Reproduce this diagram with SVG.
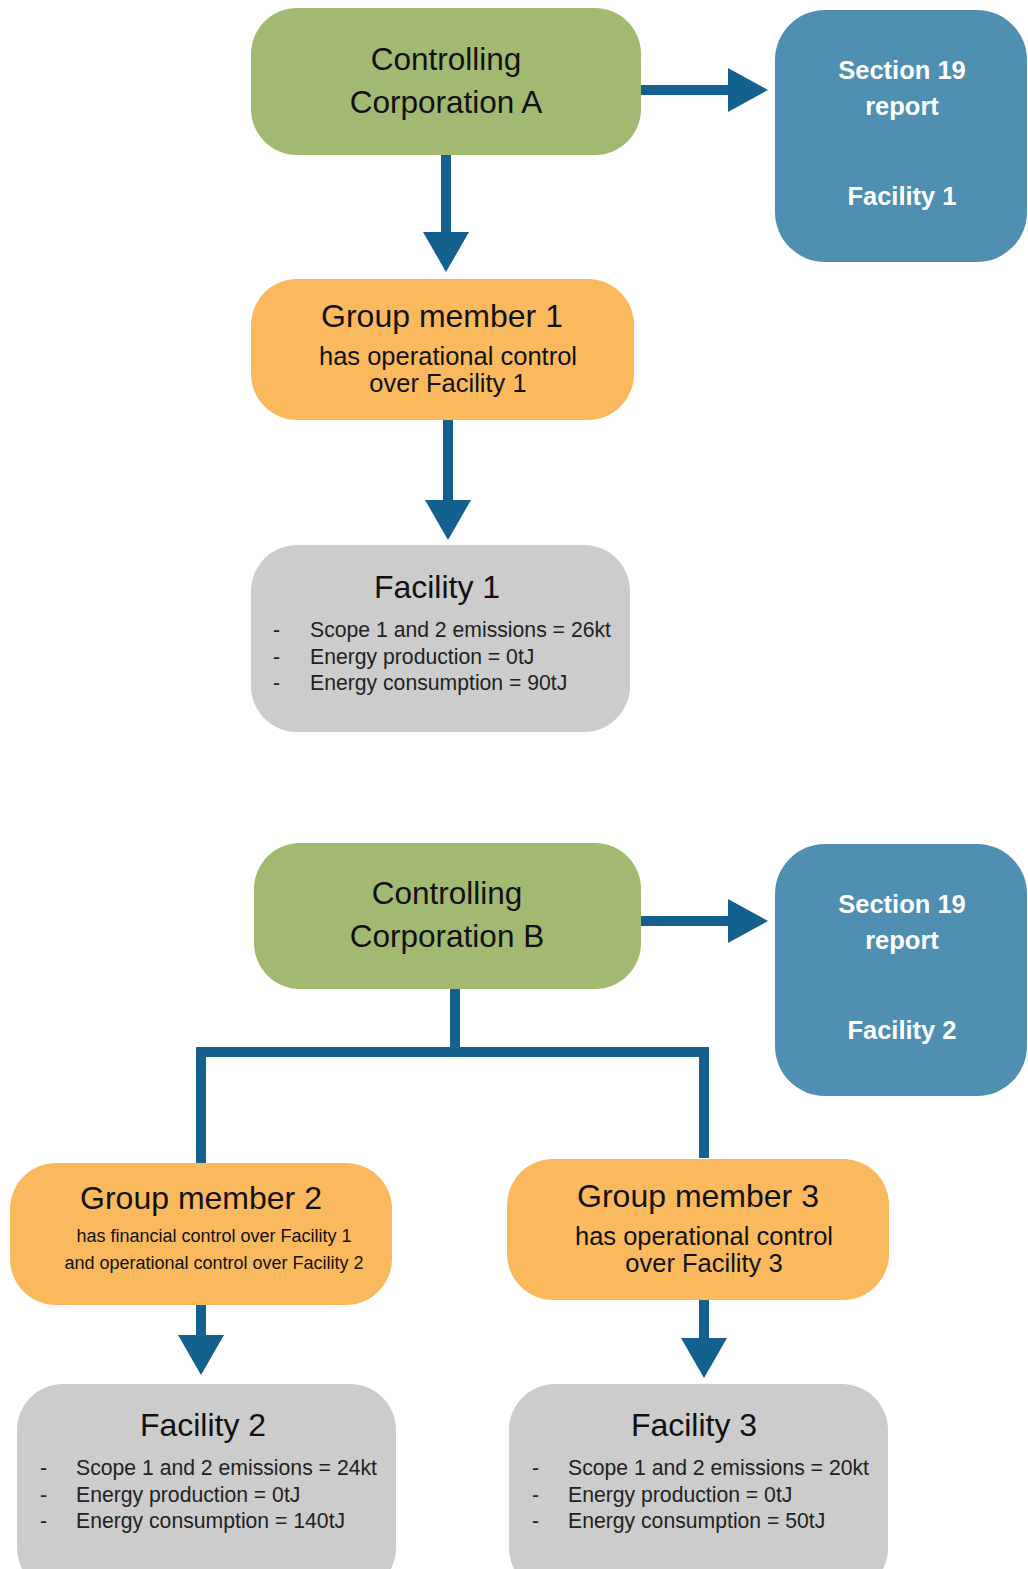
<svg xmlns="http://www.w3.org/2000/svg" width="1028" height="1569" viewBox="0 0 1028 1569">
<defs>
<style>
.green{fill:#a2b971}
.blue{fill:#4f8fb1}
.orange{fill:#fbb95e}
.gray{fill:#cccccc}
text{font-family:"Liberation Sans",Arial,sans-serif;fill:#111}
.t30{font-size:31.5px;text-anchor:middle}
.t32{font-size:32px;text-anchor:middle}
.t25{font-size:25.5px;text-anchor:middle}
.t18{font-size:18px;text-anchor:middle}
.b{font-size:21.2px;fill:#222}
.w{font-size:25.5px;font-weight:bold;fill:#fff;text-anchor:middle}
.con{stroke:#14608f;stroke-width:10;fill:none}
.head{fill:#14608f}
</style>
</defs>
<rect width="1028" height="1569" fill="#fff"/>
<g id="connectors">
<line class="con" x1="641" y1="90" x2="730" y2="90"/>
<polygon class="head" points="728,68 768,90 728,112"/>
<line class="con" x1="446" y1="155" x2="446" y2="234"/>
<polygon class="head" points="423,232 469,232 446,272"/>
<line class="con" x1="448" y1="420" x2="448" y2="502"/>
<polygon class="head" points="425,500 471,500 448,540"/>
<line class="con" x1="641" y1="921" x2="730" y2="921"/>
<polygon class="head" points="728,899 768,921 728,943"/>
<polyline class="con" points="455,989 455,1052"/>
<polyline class="con" points="201,1163 201,1052 704,1052 704,1158"/>
<line class="con" x1="201" y1="1305" x2="201" y2="1337"/>
<polygon class="head" points="178,1335 224,1335 201,1375"/>
<line class="con" x1="704" y1="1300" x2="704" y2="1340"/>
<polygon class="head" points="681,1338 727,1338 704,1378"/>
</g>
<g id="corpA">
<rect class="green" x="251" y="8" width="390" height="147" rx="46"/>
<text class="t30" x="446" y="70">Controlling</text>
<text class="t30" x="446" y="113">Corporation A</text>
</g>
<g id="section19A">
<rect class="blue" x="775" y="10" width="252" height="252" rx="50"/>
<text class="w" x="902" y="79">Section 19</text>
<text class="w" x="902" y="115">report</text>
<text class="w" x="902" y="205">Facility 1</text>
</g>
<g id="gm1">
<rect class="orange" x="251" y="279" width="383" height="141" rx="46"/>
<text class="t32" x="442" y="327">Group member 1</text>
<text class="t25" x="448" y="365">has operational control</text>
<text class="t25" x="448" y="392">over Facility 1</text>
</g>
<g id="facility1">
<rect class="gray" x="251" y="545" width="379" height="187" rx="46"/>
<text class="t32" x="437" y="598">Facility 1</text>
<text class="b" x="273" y="637">-</text>
<text class="b" x="310" y="637">Scope 1 and 2 emissions = 26kt</text>
<text class="b" x="273" y="664">-</text>
<text class="b" x="310" y="664">Energy production = 0tJ</text>
<text class="b" x="273" y="690">-</text>
<text class="b" x="310" y="690">Energy consumption = 90tJ</text>
</g>
<g id="corpB">
<rect class="green" x="254" y="843" width="387" height="146" rx="46"/>
<text class="t30" x="447" y="904">Controlling</text>
<text class="t30" x="447" y="947">Corporation B</text>
</g>
<g id="section19B">
<rect class="blue" x="775" y="844" width="252" height="252" rx="50"/>
<text class="w" x="902" y="913">Section 19</text>
<text class="w" x="902" y="949">report</text>
<text class="w" x="902" y="1039">Facility 2</text>
</g>
<g id="gm2">
<rect class="orange" x="10" y="1163" width="382" height="142" rx="46"/>
<text class="t32" x="201" y="1209">Group member 2</text>
<text class="t18" x="214" y="1242">has financial control over Facility 1</text>
<text class="t18" x="214" y="1269">and operational control over Facility 2</text>
</g>
<g id="gm3">
<rect class="orange" x="507" y="1159" width="382" height="141" rx="46"/>
<text class="t32" x="698" y="1207">Group member 3</text>
<text class="t25" x="704" y="1245">has operational control</text>
<text class="t25" x="704" y="1272">over Facility 3</text>
</g>
<g id="facility2">
<rect class="gray" x="17" y="1384" width="379" height="210" rx="46"/>
<text class="t32" x="203" y="1436">Facility 2</text>
<text class="b" x="40" y="1475">-</text>
<text class="b" x="76" y="1475">Scope 1 and 2 emissions = 24kt</text>
<text class="b" x="40" y="1502">-</text>
<text class="b" x="76" y="1502">Energy production = 0tJ</text>
<text class="b" x="40" y="1528">-</text>
<text class="b" x="76" y="1528">Energy consumption = 140tJ</text>
</g>
<g id="facility3">
<rect class="gray" x="509" y="1384" width="379" height="210" rx="46"/>
<text class="t32" x="694" y="1436">Facility 3</text>
<text class="b" x="532" y="1475">-</text>
<text class="b" x="568" y="1475">Scope 1 and 2 emissions = 20kt</text>
<text class="b" x="532" y="1502">-</text>
<text class="b" x="568" y="1502">Energy production = 0tJ</text>
<text class="b" x="532" y="1528">-</text>
<text class="b" x="568" y="1528">Energy consumption = 50tJ</text>
</g>
</svg>
